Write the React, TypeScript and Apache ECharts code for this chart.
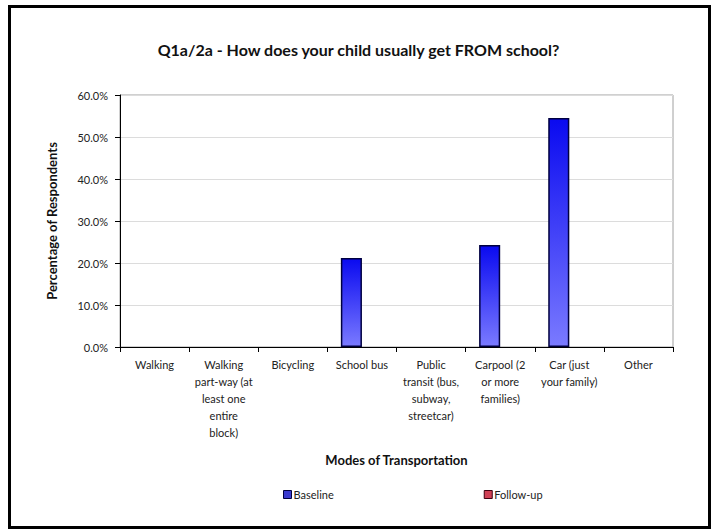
import React, { useEffect, useRef } from "react";
import * as echarts from "echarts";

const titleText = "Q1a/2a - How does your child usually get FROM school?";
const categories = [
  "Walking",
  "Walking\npart-way (at\nleast one\nentire\nblock)",
  "Bicycling",
  "School bus",
  "Public\ntransit (bus,\nsubway,\nstreetcar)",
  "Carpool (2\nor more\nfamilies)",
  "Car (just\nyour family)",
  "Other",
];
const baselineValues = [0, 0, 0, 21.2, 0, 24.3, 54.5, 0];
const followUpValues = [0, 0, 0, 0, 0, 0, 0, 0];
const seriesNames = ["Baseline", "Follow-up"];
const yAxisName = "Percentage of Respondents";
const xAxisName = "Modes of Transportation";

const FONT = "Lato, 'Open Sans', sans-serif";

export default function App() {
  const ref = useRef<HTMLDivElement>(null);
  useEffect(() => {
    if (!ref.current) return;
    const chart = echarts.init(ref.current, undefined, { renderer: "svg" });
    chart.setOption({
      animation: false,
      backgroundColor: "#ffffff",
      textStyle: { fontFamily: FONT },
      title: {
        text: titleText,
        left: "center",
        top: 36,
        textStyle: { fontFamily: FONT, fontSize: 16, fontWeight: "bold", color: "#111" },
      },
      graphic: [
        {
          type: "rect",
          shape: { x: 9.5, y: 6.5, width: 700, height: 521 },
          style: { fill: "none", stroke: "#000", lineWidth: 3 },
          z: 100,
        },
      ],
      legend: {
        left: 278,
        top: 484,
        itemWidth: 8,
        itemHeight: 8,
        itemGap: 150,
        textStyle: { fontFamily: FONT, fontSize: 11, color: "#222", padding: [0, 0, 0, -3] },
        data: [
          { name: seriesNames[0], icon: "rect", itemStyle: { color: "#3a3ad0", borderColor: "#000040", borderWidth: 1 } },
          { name: seriesNames[1], icon: "rect", itemStyle: { color: "#d04055", borderColor: "#400010", borderWidth: 1 } },
        ],
      },
      grid: {
        left: 120,
        top: 95,
        right: 44,
        bottom: 184,
        show: true,
        borderColor: "#a0a0a0",
        borderWidth: 1,
        containLabel: false,
      },
      xAxis: {
        type: "category",
        data: categories,
        name: xAxisName,
        nameLocation: "middle",
        nameGap: 106,
        nameTextStyle: { fontFamily: FONT, fontSize: 13, fontWeight: "bold", color: "#111" },
        axisLine: { lineStyle: { color: "#000", width: 1 } },
        axisTick: { show: true, length: 5, lineStyle: { color: "#000" } },
        axisLabel: {
          interval: 0,
          fontFamily: FONT,
          fontSize: 11,
          color: "#222",
          lineHeight: 17,
          margin: 9,
        },
      },
      yAxis: {
        type: "value",
        min: 0,
        max: 60,
        interval: 10,
        name: yAxisName,
        nameLocation: "middle",
        nameGap: 62,
        nameTextStyle: { fontFamily: FONT, fontSize: 13, fontWeight: "bold", color: "#111" },
        axisLine: { show: true, lineStyle: { color: "#000", width: 1 } },
        axisTick: { show: true, length: 5, lineStyle: { color: "#000" } },
        axisLabel: {
          fontFamily: FONT,
          fontSize: 11,
          color: "#222",
          margin: 12,
          formatter: (v: number) => v.toFixed(1) + "%",
        },
        splitLine: { lineStyle: { color: "#dcdcdc", width: 1 } },
      },
      series: [
        {
          name: seriesNames[0],
          type: "bar",
          data: baselineValues.map((v) =>
            v === 0 ? { value: v, itemStyle: { borderWidth: 0, opacity: 0 } } : v
          ),
          barGap: "0%",
          barCategoryGap: "39%",
          itemStyle: {
            color: new echarts.graphic.LinearGradient(0, 0, 0, 1, [
              { offset: 0, color: "#0a0af0" },
              { offset: 1, color: "#7a7aff" },
            ]),
            borderColor: "#000040",
            borderWidth: 1.5,
          },
        },
        {
          name: seriesNames[1],
          type: "bar",
          data: followUpValues.map((v) =>
            v === 0 ? { value: v, itemStyle: { borderWidth: 0, opacity: 0 } } : v
          ),
          itemStyle: { color: "#d04055", borderWidth: 0 },
        },
      ],
    });
    return () => chart.dispose();
  }, []);
  return (
    <div
      ref={ref}
      style={{ position: "fixed", left: 0, top: 0, width: 717, height: 531, background: "#fff" }}
    />
  );
}
